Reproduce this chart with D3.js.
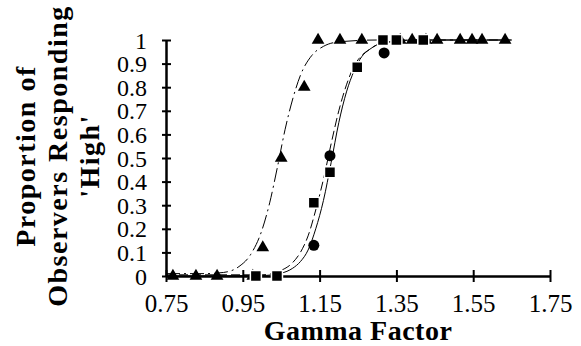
<!DOCTYPE html>
<html><head><meta charset="utf-8">
<script src="https://cdn.jsdelivr.net/npm/d3@7"></script>
<style>body{margin:0;background:#fff}svg{display:block}</style>
</head><body>
<script>
// ---- data ----
const triGamma = [0.768,0.828,0.883,0.976,1.002,1.05,1.11,1.146,1.203,1.26,1.36,1.391,1.427,1.456,1.516,1.547,1.573,1.633];
const triProp  = [0,0,0,0,0.12,0.5,0.8,1,1,1,1,1,1,1,1,1,1,1];
const sqGamma  = [0.984,1.039,1.135,1.177,1.248,1.315,1.35,1.42];
const sqProp   = [0,0,0.31,0.44,0.885,1,1,1];
const cirGamma = [0.984,1.039,1.135,1.177,1.318,1.35,1.42];
const cirProp  = [0,0,0.13,0.51,0.945,1,1];

const triFitGamma = [0.75,0.85,0.90,0.94,0.97,1.00,1.02,1.04,1.06,1.08,1.10,1.13,1.16,1.20,1.30,1.65];
const triFitProp  = [0.01,0.01,0.015,0.04,0.09,0.195,0.31,0.46,0.62,0.75,0.85,0.935,0.973,0.992,1,1];
const sqFitGamma  = [0.75,1.00,1.05,1.08,1.10,1.12,1.14,1.16,1.18,1.20,1.22,1.24,1.26,1.28,1.30,1.33,1.40,1.65];
const sqFitProp   = [0,0.002,0.012,0.033,0.061,0.11,0.20,0.32,0.48,0.65,0.78,0.87,0.93,0.96,0.98,0.993,1,1];
const cirFitGamma = [0.75,1.00,1.05,1.08,1.10,1.12,1.14,1.16,1.18,1.20,1.22,1.24,1.26,1.28,1.30,1.33,1.40,1.65];
const cirFitProp  = [0.005,0.005,0.024,0.057,0.10,0.17,0.28,0.41,0.56,0.70,0.81,0.89,0.935,0.96,0.98,0.99,1,1];

const xTicks = [0.75,0.95,1.15,1.35,1.55,1.75];
const xTickLabels = ["0.75","0.95","1.15","1.35","1.55","1.75"];
const yTicks = [0,0.1,0.2,0.3,0.4,0.5,0.6,0.7,0.8,0.9,1];
const yTickLabels = ["0","0.1","0.2","0.3","0.4","0.5","0.6","0.7","0.8","0.9","1"];
const xTitle = "Gamma Factor";
const yTitleLines = ["Proportion of","Observers Responding","'High'"];

// ---- drawing ----
const W = 581, H = 346;
const FONT = '"Liberation Serif"';
const svg = d3.select("body").append("svg").attr("width",W).attr("height",H);
svg.append("rect").attr("width",W).attr("height",H).attr("fill","#fff");

const x = d3.scaleLinear().domain([0.75,1.75]).range([166,550]);
const y = d3.scaleLinear().domain([0,1]).range([276,40]);

// x axis
const gx = svg.append("g").attr("transform",`translate(0,${y(0)})`)
  .call(d3.axisBottom(x).tickValues(xTicks).tickFormat((d,i)=>xTickLabels[i]).tickSize(6).tickSizeOuter(0));
gx.select(".domain").attr("stroke","#000").attr("stroke-width",2.5);
gx.selectAll(".tick line").attr("y1",-6).attr("y2",6).attr("stroke","#000").attr("stroke-width",2);
gx.selectAll(".tick text").attr("y",18).attr("dy","0.71em").style("font-family",FONT).style("font-size","25px").attr("fill","#000");

// y axis
const gy = svg.append("g").attr("transform",`translate(${x(0.75)},0)`)
  .call(d3.axisLeft(y).tickValues(yTicks).tickFormat((d,i)=>yTickLabels[i]).tickSize(4).tickSizeOuter(0));
gy.select(".domain").attr("stroke","#000").attr("stroke-width",2.5);
gy.selectAll(".tick line").attr("x1",-4).attr("x2",5).attr("stroke","#000").attr("stroke-width",2);
gy.selectAll(".tick text").attr("x",-19).attr("dy","0.34em").style("font-family",FONT).style("font-size","24px").attr("fill","#000");

// titles
svg.append("text").attr("x",358).attr("y",340).attr("text-anchor","middle")
  .style("font-family",FONT).style("font-weight","bold").style("font-size","28px").style("letter-spacing","0.5px").text(xTitle);
const yt = [25,57,89];
yTitleLines.forEach((t,i)=>{
  svg.append("text").attr("transform",`translate(${yt[i]},156) rotate(-90)`)
    .attr("text-anchor","middle").attr("dy","0.36em")
    .style("font-family",FONT).style("font-weight","bold").style("font-size","28px").style("letter-spacing","1.5px").text(t);
});

// fitted curves
const line = d3.line().x(d=>x(d[0])).y(d=>y(d[1])).curve(d3.curveMonotoneX);
const fits = [
  {g:triFitGamma,p:triFitProp,dash:"14,4,2,4"},
  {g:sqFitGamma,p:sqFitProp,dash:null},
  {g:cirFitGamma,p:cirFitProp,dash:"9,4"}
];
fits.forEach(f=>{
  svg.append("path").datum(f.g.map((g,i)=>[g,f.p[i]])).attr("d",line)
    .attr("fill","none").attr("stroke","#000").attr("stroke-width",1)
    .attr("stroke-dasharray",f.dash);
});

// markers
function markers(gs,ps,type,size,stroke){
  svg.append("g").selectAll("path").data(gs.map((g,i)=>[g,ps[i]])).join("path")
    .attr("transform",d=>`translate(${x(d[0])},${y(d[1])})`)
    .attr("d",d3.symbol(type,size))
    .attr("fill","#000").attr("stroke",stroke?"#fff":"none").attr("stroke-width",stroke?1.5:0);
}
markers(cirGamma,cirProp,d3.symbolCircle,95,false);
markers(triGamma,triProp,d3.symbolTriangle,70,false);
markers(sqGamma,sqProp,d3.symbolSquare,121,true);
</script>
</body></html>
